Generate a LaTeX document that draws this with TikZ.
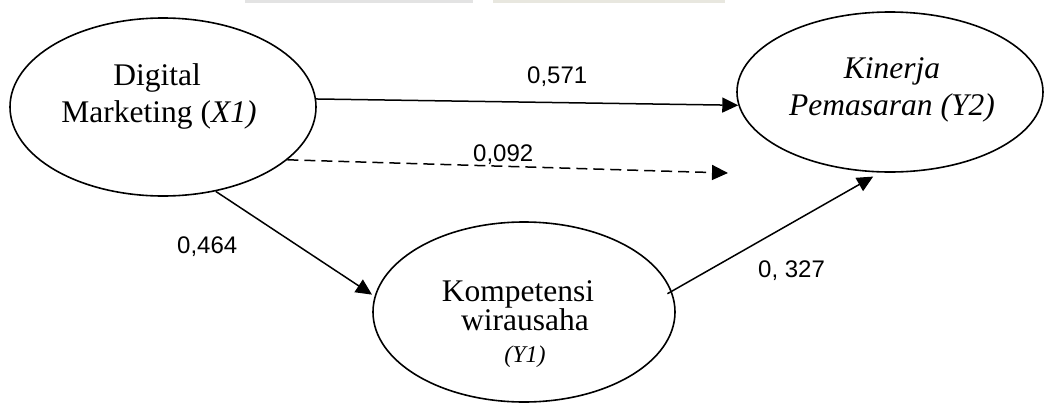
\documentclass[tikz,border=0pt]{standalone}
\usepackage{fontspec}
\setmainfont{Liberation Serif}
\newfontfamily\numfont{Liberation Sans}
\usetikzlibrary{arrows.meta,shapes.geometric}
\begin{document}
\begin{tikzpicture}[x=1pt,y=-1pt,
  var/.style={draw,line width=1.6pt,ellipse,inner sep=0pt},
  txt/.style={inner sep=0pt,anchor=base,font=\fontsize{31.5}{36}\selectfont},
  num/.style={inner sep=0pt,anchor=base west,font=\numfont\fontsize{24}{28}\selectfont},
  arr/.style={line width=1.5pt,-{Triangle[length=16pt,width=15pt]}}]
\useasboundingbox (0,0) rectangle (1045,402);
\fill[gray!22] (245,0) rectangle (473,3);
\fill[yellow!15!gray!25] (493,0) rectangle (725,3);
% ellipses
\node[var,minimum width=306pt,minimum height=178pt] (dm) at (163,107) {};
\node[var,minimum width=306pt,minimum height=160pt] (kin) at (890,92) {};
\node[var,minimum width=302pt,minimum height=180pt] (kp) at (524,312) {};
% texts
\node[txt] (t1) at (157,85) {Digital};
\node[txt] (t2) at (159,122) {Marketing (\textit{X1)}};
\node[txt] (t3) at (892,78) {\textit{Kinerja}};
\node[txt] (t4) at (892,115) {\textit{Pemasaran (Y2)}};
\node[txt] (t5) at (518,301) {Kompetensi};
\node[txt] (t6) at (525,330) {wirausaha};
\node[inner sep=0pt,anchor=base,font=\fontsize{24}{28}\selectfont] (t7) at (525,362) {\textit{(Y1)}};
% connectors
\coordinate (dashend) at (728,173);
\draw[arr] (dm.3.7) -- (kin.185.6);
\draw[arr,dash pattern=on 11pt off 6pt] (dm.-23.1) -- (dashend);
\draw[arr,shorten >=3pt] (dm.-58.9) -- (kp.174);
\draw[arr,shorten <=-5pt,shorten >=8pt] (kp.8.5) -- (kin.263.5);
% labels
\node[num] (n1) at (527,83) {0,571};
\node[num] (n2) at (473,161) {0,092};
\node[num] (n3) at (177,253) {0,464};
\node[num] (n4) at (758,277) {0, 327};
\end{tikzpicture}
\end{document}
